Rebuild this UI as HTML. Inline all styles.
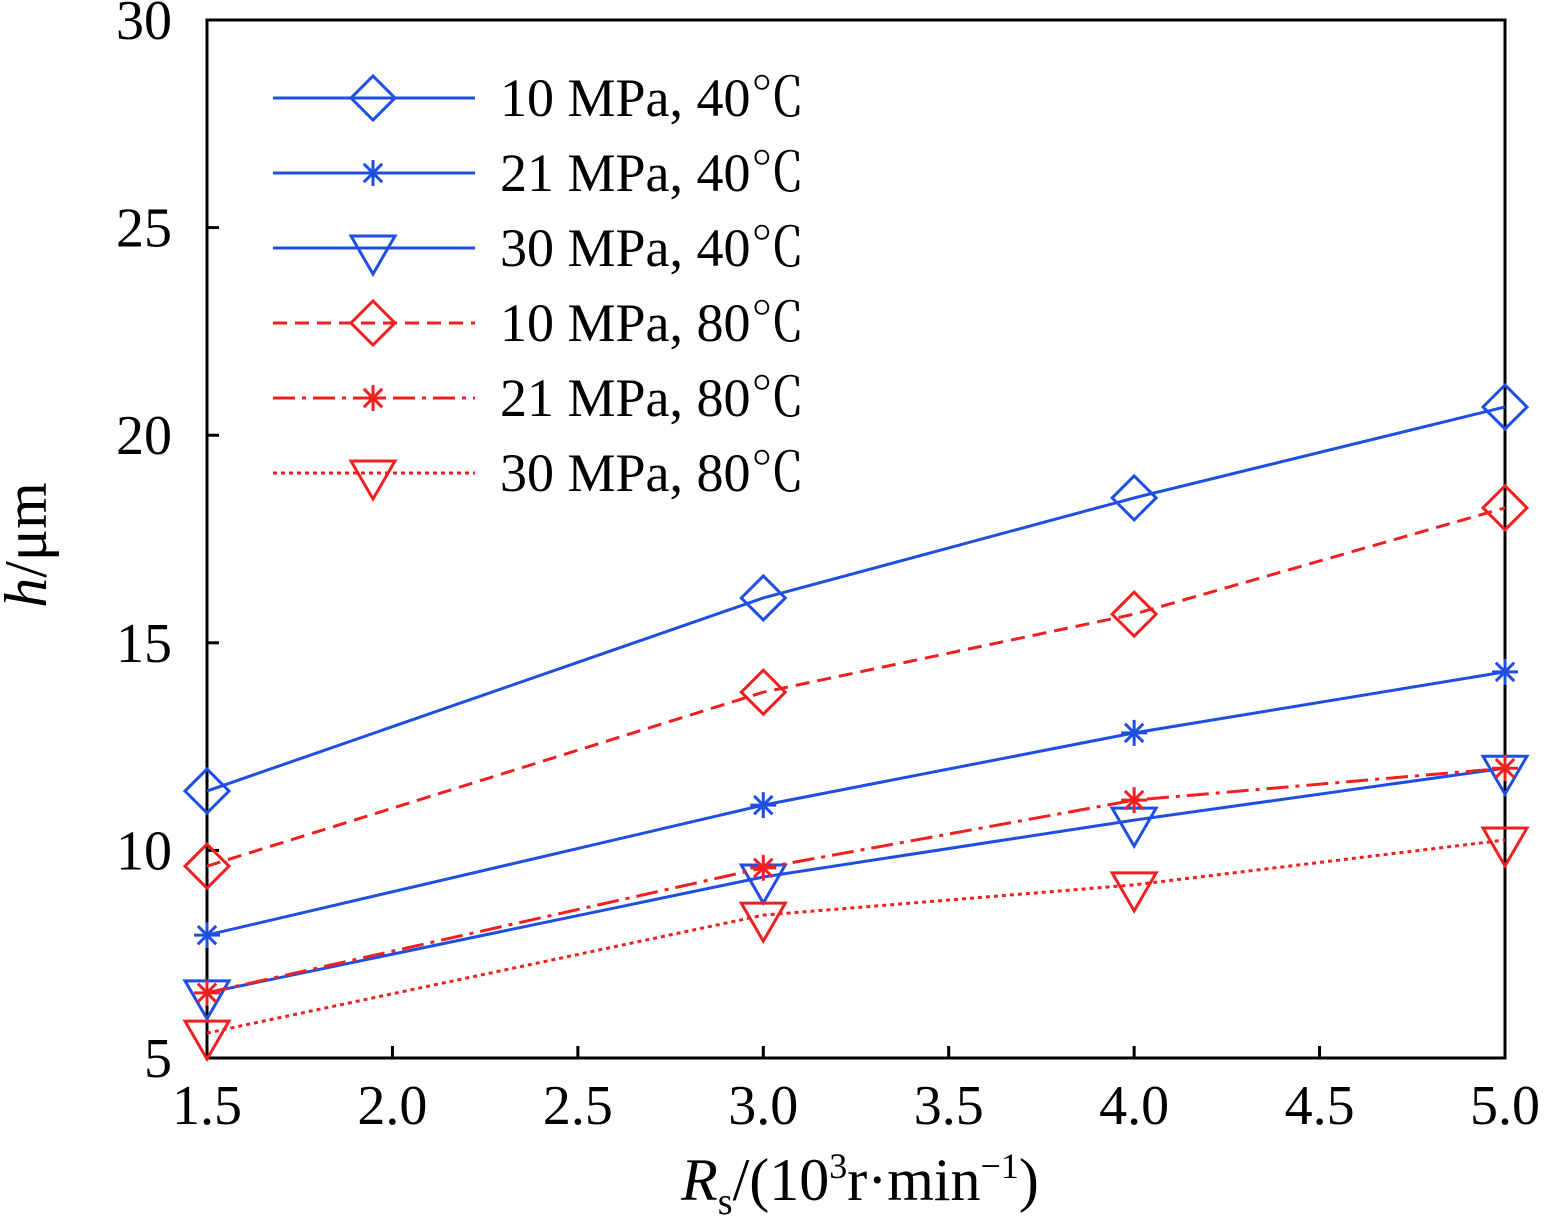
<!DOCTYPE html>
<html><head><meta charset="utf-8"><style>
body{margin:0;background:#fff}
svg text{font-family:"Liberation Serif",serif;fill:#000}
.cjk{font-family:"Noto Serif CJK SC",serif}
</style></head><body>
<svg id="chart" width="1546" height="1225" xmlns="http://www.w3.org/2000/svg"></svg>
<script>
const xCats=[1.5,3.0,4.0,5.0];
const s10_40=[11.43,16.08,18.49,20.68];
const s21_40=[7.96,11.09,12.83,14.30];
const s30_40=[6.57,9.36,10.73,11.98];
const s10_80=[9.62,13.81,15.69,18.25];
const s21_80=[6.57,9.58,11.21,11.98];
const s30_80=[5.6,8.44,9.17,10.25];
const seriesNames=["10 MPa, 40","21 MPa, 40","30 MPa, 40","10 MPa, 80","21 MPa, 80","30 MPa, 80"];
const xTicks=["1.5","2.0","2.5","3.0","3.5","4.0","4.5","5.0"];
const yTicks=["5","10","15","20","25","30"];

const svg=document.getElementById('chart');
const NS="http://www.w3.org/2000/svg";
const L=207,R=1505,T=20,B=1058;
const X=v=>L+(v-1.5)/3.5*(R-L);
const Y=v=>B-(v-5)/25*(B-T);
function mk(tag,a,p){const e=document.createElementNS(NS,tag);for(const k in a)e.setAttribute(k,a[k]);(p||svg).appendChild(e);return e;}

const frame=mk('rect',{x:L,y:T,width:R-L,height:B-T,fill:'none',stroke:'#000','stroke-width':3});


xTicks.forEach(t=>{const x=X(+t);
 const l=mk('line',{x1:x,x2:x,y1:B,y2:B-12,stroke:'#000','stroke-width':3});
 
 
 const tx=mk('text',{x:x,y:B+66,'text-anchor':'middle','font-size':56});tx.textContent=t;
 
 
});
yTicks.forEach(t=>{const y=Y(+t);
 const l=mk('line',{x1:L,x2:L+12,y1:y,y2:y,stroke:'#000','stroke-width':3});
 
 
 const tx=mk('text',{x:172,y:y+19,'text-anchor':'end','font-size':56});tx.textContent=t;
 
 
});
const yt=mk('text',{x:0,y:0,'font-size':60,transform:'translate(46,545) rotate(-90)','text-anchor':'middle'});
yt.innerHTML='<tspan font-style="italic">h</tspan>/μm';


const xt=mk('text',{x:860,y:1200,'font-size':60,'text-anchor':'middle'});
xt.innerHTML='<tspan font-style="italic">R</tspan><tspan font-size="38" dy="14">s</tspan><tspan dy="-14">/(10</tspan><tspan font-size="36" dy="-22">3</tspan><tspan dy="22">r·min</tspan><tspan font-size="36" dy="-22">−1</tspan><tspan dy="22">)</tspan>';



const blue='#1f4fe0',red='#f02020';
const defs=[
 {d:s10_40,c:blue,dash:'',m:'diamond'},
 {d:s21_40,c:blue,dash:'',m:'star'},
 {d:s30_40,c:blue,dash:'',m:'tri'},
 {d:s10_80,c:red,dash:'14 8',m:'diamond'},
 {d:s21_80,c:red,dash:'22 7 4 7',m:'star'},
 {d:s30_80,c:red,dash:'4 4',m:'tri'}];
function marker(m,x,y,c,g){
 if(m==='diamond')mk('polygon',{points:`${x},${y-22} ${x+22},${y} ${x},${y+22} ${x-22},${y}`,fill:'none',stroke:c,'stroke-width':3},g);
 else if(m==='tri')mk('polygon',{points:`${x-22},${y-12} ${x+22},${y-12} ${x},${y+26}`,fill:'none',stroke:c,'stroke-width':3},g);
 else{for(let a=0;a<180;a+=45){const r=a*Math.PI/180,dx=13*Math.cos(r),dy=13*Math.sin(r);
  mk('line',{x1:x-dx,y1:y-dy,x2:x+dx,y2:y+dy,stroke:c,'stroke-width':3},g);}}
}
defs.forEach((s,i)=>{
 const g=mk('g',{});
 
 
 const pts=s.d.map((v,j)=>X(xCats[j])+','+Y(v)).join(' ');
 mk('polyline',{points:pts,fill:'none',stroke:s.c,'stroke-width':3,'stroke-dasharray':s.dash},g);
 s.d.forEach((v,j)=>marker(s.m,X(xCats[j]),Y(v),s.c,g));
 const ly=98+i*75;
 const lg=mk('g',{});
 
 
 mk('line',{x1:273,x2:475,y1:ly,y2:ly,stroke:s.c,'stroke-width':3,'stroke-dasharray':s.dash},lg);
 marker(s.m,373,ly,s.c,lg);
 const t=mk('text',{x:500,y:ly+18,'font-size':54},lg);
 t.innerHTML=seriesNames[i]+'<tspan class="cjk">℃</tspan>';
});
</script>
</body></html>
